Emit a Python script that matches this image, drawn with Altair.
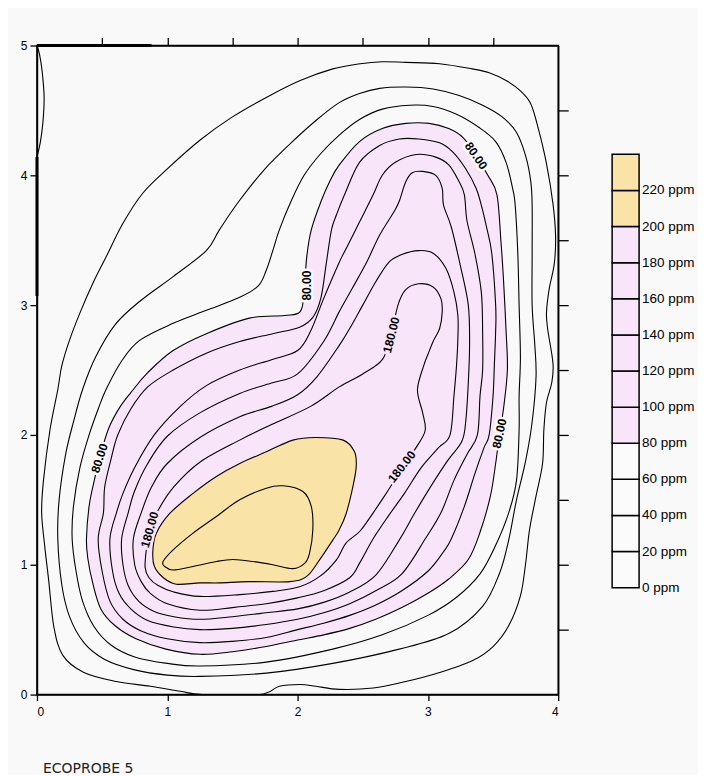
import altair as alt
import pandas as pd

PINK = "#f9e5f9"
YELLOW = "#f9e3a6"
BG = "#f9f9f9"
FONT = "Liberation Sans"

# ---- contour lines (x, y) ----
c020 = [(1.27,0.0),(1.10,0.025),(0.87,0.064),(0.61,0.10),(0.36,0.17),(0.20,0.30),(0.13,0.52),(0.09,0.88),(0.06,1.14),(0.036,1.40),(0.05,1.65),(0.10,2.04),(0.16,2.35),(0.19,2.53),(0.25,2.73),(0.33,2.94),(0.43,3.17),(0.53,3.37),(0.66,3.63),(0.81,3.86),(0.99,4.04),(1.25,4.27),(1.50,4.45),(1.76,4.60),(2.02,4.73),(2.27,4.82),(2.48,4.86),(2.65,4.875),(2.83,4.87),(3.09,4.86),(3.34,4.82),(3.47,4.79),(3.60,4.73),(3.71,4.65),(3.79,4.55),(3.85,4.35),(3.91,4.09),(3.96,3.78),(3.98,3.53),(3.97,3.32),(3.93,3.12),(3.91,2.94),(3.92,2.81),(3.96,2.55),(3.95,2.40),(3.91,2.25),(3.89,2.04),(3.88,1.78),(3.83,1.53),(3.78,1.27),(3.75,1.01),(3.71,0.76),(3.62,0.53),(3.50,0.37),(3.34,0.26),(3.09,0.17),(2.83,0.10),(2.58,0.05),(2.32,0.04),(2.14,0.064),(2.02,0.077),(1.86,0.064),(1.71,0.0)]
c040 = [(1.25,0.14),(1.0,0.15),(0.75,0.19),(0.52,0.27),(0.36,0.40),(0.25,0.60),(0.19,0.85),(0.16,1.2),(0.17,1.5),(0.22,1.85),(0.28,2.1),(0.35,2.35),(0.45,2.6),(0.6,2.85),(0.79,3.03),(1.045,3.22),(1.30,3.42),(1.40,3.58),(1.55,3.80),(1.75,4.05),(1.95,4.25),(2.15,4.43),(2.32,4.56),(2.475,4.63),(2.63,4.67),(2.83,4.68),(3.04,4.665),(3.24,4.615),(3.42,4.54),(3.57,4.45),(3.68,4.33),(3.75,4.15),(3.79,3.95),(3.80,3.77),(3.80,3.4),(3.80,3.0),(3.82,2.7),(3.83,2.45),(3.80,2.1),(3.75,1.8),(3.68,1.5),(3.62,1.19),(3.55,0.935),(3.42,0.68),(3.16,0.47),(2.78,0.35),(2.27,0.24),(1.76,0.165)]
c060 = [(1.25,0.22),(1.0,0.24),(0.75,0.29),(0.57,0.38),(0.44,0.52),(0.35,0.72),(0.30,0.95),(0.27,1.2),(0.28,1.45),(0.33,1.75),(0.40,2.0),(0.47,2.2),(0.53,2.35),(0.65,2.57),(0.79,2.73),(1.045,2.86),(1.30,2.96),(1.556,3.06),(1.70,3.15),(1.76,3.27),(1.81,3.42),(1.86,3.58),(1.95,3.80),(2.05,4.0),(2.18,4.17),(2.32,4.31),(2.475,4.43),(2.65,4.51),(2.86,4.54),(3.04,4.53),(3.22,4.47),(3.39,4.37),(3.52,4.26),(3.60,4.10),(3.65,3.90),(3.67,3.77),(3.69,3.4),(3.70,3.0),(3.71,2.6),(3.70,2.3),(3.70,2.04),(3.68,1.65),(3.62,1.40),(3.52,1.15),(3.40,0.93),(3.22,0.75),(3.0,0.61),(2.65,0.46),(2.27,0.35),(1.76,0.25)]
c080 = [(1.25,0.31),(0.99,0.35),(0.76,0.43),(0.60,0.53),(0.49,0.66),(0.43,0.85),(0.39,1.05),(0.38,1.2),(0.40,1.45),(0.44,1.65),(0.48,1.82),(0.55,2.05),(0.64,2.22),(0.74,2.35),(0.85,2.48),(1.045,2.65),(1.30,2.78),(1.63,2.90),(1.90,2.92),(2.02,2.95),(2.05,3.10),(2.07,3.37),(2.105,3.58),(2.18,3.80),(2.25,3.96),(2.32,4.08),(2.475,4.26),(2.65,4.36),(2.83,4.40),(3.01,4.40),(3.16,4.36),(3.27,4.29),(3.37,4.15),(3.46,4.0),(3.53,3.85),(3.56,3.5),(3.58,3.2),(3.60,2.8),(3.61,2.5),(3.58,2.2),(3.55,2.01),(3.52,1.78),(3.48,1.53),(3.40,1.25),(3.31,1.04),(3.16,0.89),(3.0,0.78),(2.80,0.67),(2.60,0.58),(2.40,0.51),(2.20,0.46),(2.0,0.42),(1.76,0.37),(1.50,0.33)]
c100 = [(1.25,0.40),(1.0,0.43),(0.80,0.49),(0.66,0.58),(0.56,0.72),(0.50,0.95),(0.47,1.2),(0.51,1.4),(0.52,1.6),(0.57,1.82),(0.62,2.0),(0.72,2.2),(0.85,2.37),(1.045,2.50),(1.30,2.63),(1.556,2.72),(1.81,2.78),(2.015,2.83),(2.12,2.91),(2.18,3.06),(2.22,3.32),(2.26,3.58),(2.30,3.70),(2.36,3.85),(2.475,4.10),(2.63,4.23),(2.78,4.28),(2.93,4.28),(3.09,4.25),(3.19,4.18),(3.29,4.05),(3.37,3.90),(3.41,3.77),(3.45,3.6),(3.49,3.4),(3.52,3.0),(3.52,2.8),(3.51,2.54),(3.50,2.3),(3.47,2.0),(3.43,1.9),(3.36,1.7),(3.28,1.45),(3.18,1.2),(3.12,1.1),(3.0,0.95),(2.8,0.80),(2.6,0.69),(2.4,0.61),(2.2,0.55),(2.0,0.50),(1.76,0.44),(1.5,0.41)]
c120 = [(1.25,0.50),(1.05,0.52),(0.85,0.57),(0.72,0.66),(0.63,0.78),(0.58,0.95),(0.56,1.2),(0.61,1.4),(0.66,1.55),(0.75,1.75),(0.9,2.0),(1.1,2.22),(1.3,2.38),(1.556,2.50),(1.8,2.58),(2.0,2.65),(2.1,2.8),(2.2,3.05),(2.32,3.33),(2.37,3.43),(2.475,3.64),(2.58,3.85),(2.65,4.0),(2.75,4.10),(2.91,4.16),(3.06,4.14),(3.16,4.08),(3.24,3.95),(3.28,3.85),(3.30,3.65),(3.36,3.4),(3.41,3.1),(3.42,2.8),(3.42,2.5),(3.40,2.3),(3.38,2.0),(3.30,1.85),(3.2,1.65),(3.1,1.4),(2.98,1.2),(2.8,0.93),(2.6,0.80),(2.4,0.70),(2.2,0.63),(2.0,0.58),(1.76,0.54),(1.5,0.51)]
c140 = [(1.25,0.58),(1.5,0.60),(1.76,0.63),(2.0,0.66),(2.2,0.71),(2.4,0.79),(2.6,0.92),(2.78,1.19),(2.9,1.4),(3.02,1.6),(3.15,1.8),(3.26,1.95),(3.29,2.1),(3.31,2.4),(3.32,2.7),(3.31,3.0),(3.25,3.3),(3.18,3.6),(3.12,3.77),(3.11,3.90),(3.06,4.0),(2.96,4.03),(2.88,4.02),(2.83,3.95),(2.78,3.80),(2.74,3.72),(2.63,3.54),(2.53,3.33),(2.42,3.13),(2.32,2.95),(2.2,2.72),(2.0,2.47),(1.8,2.40),(1.556,2.32),(1.25,2.17),(1.0,1.99),(0.85,1.78),(0.75,1.57),(0.70,1.4),(0.65,1.2),(0.66,1.0),(0.70,0.84),(0.78,0.72),(0.90,0.64),(1.05,0.60)]
c160 = [(2.93,3.42),(2.80,3.39),(2.70,3.33),(2.60,3.18),(2.50,3.0),(2.40,2.82),(2.32,2.69),(2.15,2.45),(2.0,2.31),(1.8,2.22),(1.556,2.14),(1.25,1.98),(1.0,1.78),(0.88,1.6),(0.80,1.4),(0.74,1.2),(0.75,1.0),(0.80,0.87),(0.87,0.78),(1.0,0.70),(1.25,0.65),(1.5,0.67),(1.76,0.70),(2.0,0.745),(2.2,0.80),(2.4,0.90),(2.48,1.02),(2.58,1.2),(2.70,1.38),(2.82,1.55),(2.95,1.75),(3.08,1.9),(3.17,2.0),(3.20,2.3),(3.22,2.54),(3.23,2.74),(3.23,2.92),(3.20,3.10),(3.14,3.28),(3.04,3.40)]
c180 = [(0.866,1.27),(0.84,1.12),(0.83,0.98),(0.86,0.90),(0.93,0.84),(1.05,0.79),(1.25,0.756),(1.556,0.77),(1.81,0.795),(2.015,0.83),(2.17,0.91),(2.30,1.04),(2.37,1.165),(2.48,1.26),(2.58,1.40),(2.68,1.55),(2.81,1.756),(2.93,1.935),(2.98,2.04),(2.96,2.17),(2.92,2.35),(2.97,2.54),(3.00,2.62),(3.04,2.72),(3.09,2.82),(3.11,2.95),(3.10,3.05),(3.04,3.14),(2.93,3.165),(2.83,3.12),(2.77,3.0),(2.72,2.77),(2.65,2.58),(2.50,2.47),(2.32,2.37),(2.1,2.22),(1.8,2.08),(1.556,1.96),(1.25,1.79),(1.05,1.60),(0.93,1.42)]
c200 = [(0.89,1.115),(0.917,1.244),(1.019,1.395),(1.198,1.55),(1.377,1.68),(1.556,1.78),(1.76,1.87),(1.964,1.96),(2.14,1.98),(2.35,1.96),(2.437,1.87),(2.45,1.756),(2.424,1.60),(2.373,1.395),(2.32,1.27),(2.27,1.19),(2.17,1.04),(2.07,0.91),(1.94,0.87),(1.63,0.87),(1.40,0.86),(1.25,0.86),(1.07,0.85),(0.97,0.90),(0.90,0.99)]
c220 = [(0.968,1.025),(1.045,1.115),(1.198,1.244),(1.377,1.372),(1.556,1.50),(1.76,1.59),(1.888,1.608),(2.041,1.564),(2.105,1.449),(2.117,1.269),(2.092,1.09),(2.054,1.01),(1.964,0.97),(1.811,1.00),(1.658,1.025),(1.504,1.04),(1.377,1.025),(1.198,0.987),(1.045,0.96),(0.98,0.987)]
edge_line = [(0.0,5.0),(0.02,4.93),(0.04,4.8),(0.055,4.6),(0.045,4.4),(0.025,4.25),(0.0,4.14)]

levels = [20, 40, 60, 80, 100, 120, 140, 160, 180, 200, 220]
contours = [c020, c040, c060, c080, c100, c120, c140, c160, c180, c200, c220]

# contour labels
lab_text = ["80.00", "80.00", "80.00", "80.00", "180.00", "180.00", "180.00"]
lab_x = [2.07, 3.37, 0.48, 3.55, 0.866, 2.72, 2.80]
lab_y = [3.15, 4.15, 1.82, 2.01, 1.27, 2.77, 1.756]
lab_angle = [270, 55, 288, 282, 286, 284, 308]

# thick frame segments
seg_x1 = [0.0, 0.0]
seg_x2 = [0.88, 0.0]
seg_y1 = [5.0, 4.14]
seg_y2 = [5.0, 3.07]

# legend
leg_levels = [0, 20, 40, 60, 80, 100, 120, 140, 160, 180, 200, 220]
leg_labels = [f"{v} ppm" for v in leg_levels]


def band_color(v):
    if v >= 200:
        return YELLOW
    if v >= 80:
        return PINK
    return "#fbfbfb"


xs = alt.Scale(domain=[0, 4], nice=False, zero=False)
ys = alt.Scale(domain=[0, 5], nice=False, zero=False)
x_enc = alt.X("x:Q", scale=xs, axis=alt.Axis(values=[0, 1, 2, 3, 4], format="d", title=None,
                                             grid=False, tickSize=6, labelPadding=6))
y_enc = alt.Y("y:Q", scale=ys, axis=alt.Axis(values=[0, 1, 2, 3, 4, 5], format="d", title=None,
                                             grid=False, tickSize=7, labelPadding=3))

layers = []
for lev, pts in zip(levels, contours):
    df = pd.DataFrame({"x": [p[0] for p in pts], "y": [p[1] for p in pts], "i": list(range(len(pts)))})
    kw = dict(interpolate="cardinal-closed", stroke="black", strokeWidth=1.1, clip=True)
    if lev >= 80:
        kw["fill"] = band_color(lev)
    layers.append(alt.Chart(df).mark_line(**kw).encode(x=x_enc, y=y_enc, order="i:Q"))

edge_df = pd.DataFrame({"x": [p[0] for p in edge_line], "y": [p[1] for p in edge_line],
                        "i": list(range(len(edge_line)))})
layers.append(alt.Chart(edge_df).mark_line(interpolate="cardinal", stroke="black", strokeWidth=1.1)
              .encode(x=x_enc, y=y_enc, order="i:Q"))

lab_df = pd.DataFrame({"x": lab_x, "y": lab_y, "t": lab_text, "a": lab_angle,
                       "h": [BG, BG, BG, BG, PINK, PINK, PINK]})
halo = alt.Chart(lab_df).mark_text(font=FONT, fontSize=12, fontWeight="bold", strokeWidth=5,
                                   baseline="middle", align="center").encode(
    x=x_enc, y=y_enc, text="t:N", angle=alt.Angle("a:Q", scale=None),
    stroke=alt.Stroke("h:N", scale=None), fill=alt.Fill("h:N", scale=None))
front = alt.Chart(lab_df).mark_text(font=FONT, fontSize=12, fontWeight="bold", color="black",
                                    baseline="middle", align="center").encode(
    x=x_enc, y=y_enc, text="t:N", angle=alt.Angle("a:Q", scale=None))
layers += [halo, front]

inner = alt.layer(*layers)

seg_df = pd.DataFrame({"x": seg_x1, "x2": seg_x2, "y": seg_y1, "y2": seg_y2})
frame = alt.Chart(seg_df).mark_rule(strokeWidth=3, color="black").encode(
    x=alt.X("x:Q", scale=xs, axis=alt.Axis(orient="top", values=[0.5, 1, 1.5, 2, 2.5, 3, 3.5],
                                            labels=False, tickSize=8, title=None, grid=False)),
    x2="x2:Q",
    y=alt.Y("y:Q", scale=ys, axis=alt.Axis(orient="right", values=[0.5, 1, 1.5, 2, 2.5, 3, 3.5, 4, 4.5],
                                            labels=False, tickSize=10, title=None, grid=False)),
    y2="y2:Q")

leg_scale = alt.Scale(domain=[0, 240], range=[543, 109], nice=False, zero=False)
leg_df = pd.DataFrame({"lo": leg_levels, "hi": [v + 20 for v in leg_levels],
                       "c": [band_color(v) for v in leg_levels]})
leg_rect = alt.Chart(leg_df).mark_rect(stroke="black", strokeWidth=1.5).encode(
    x=alt.value(576), x2=alt.value(603),
    y=alt.Y("lo:Q", scale=leg_scale, axis=None), y2="hi:Q",
    fill=alt.Fill("c:N", scale=None))
legt_df = pd.DataFrame({"v": leg_levels, "t": leg_labels})
leg_text = alt.Chart(legt_df).mark_text(font=FONT, fontSize=13.5, align="left", baseline="middle",
                                        color="black").encode(
    x=alt.value(606), y=alt.Y("v:Q", scale=leg_scale, axis=None), text="t:N")
legend = alt.layer(leg_rect, leg_text)

cap = alt.Chart(pd.DataFrame({"t": ["ECOPROBE 5"]})).mark_text(
    font="DejaVu Sans", fontSize=14, align="left", baseline="middle", color="#222").encode(
    x=alt.value(6), y=alt.value(725), text="t:N")

chart = alt.layer(inner, frame, legend, cap).resolve_scale(
    x="independent", y="independent").properties(
    width=522, height=650,
    autosize=alt.AutoSizeParams(type="none"),
    padding={"left": 29, "top": 37, "right": 140, "bottom": 80},
    background=BG,
).configure_view(stroke="black", strokeWidth=1.5).configure_axis(
    labelFont=FONT, labelFontSize=12, labelColor="black", tickColor="black",
    domainColor="black", tickWidth=1.3, domainWidth=1.5)

chart.save("out.html", embed_options={"renderer": "svg", "actions": False})
